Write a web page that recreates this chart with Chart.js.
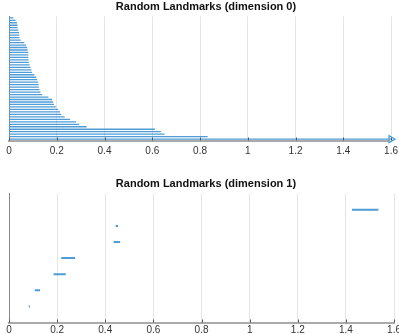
<!DOCTYPE html>
<html>
<head>
<meta charset="utf-8">
<script src="https://cdn.jsdelivr.net/npm/chart.js@4/dist/chart.umd.min.js"></script>
<style>
  html, body { margin: 0; padding: 0; background: #fff; overflow: hidden; }
  #wrap { position: relative; width: 399px; height: 334px; overflow: hidden; }
  .box { position: absolute; left: 0; width: 403px; }
</style>
</head>
<body>
<div id="wrap">
  <div class="box" style="top:0;height:167px"><canvas id="dim0" width="403" height="167"></canvas></div>
  <div class="box" style="top:168px;height:172px"><canvas id="dim1" width="403" height="172"></canvas></div>
</div>
<script>
// x axis ticks shared by both panels
const xTicks = [0, 0.2, 0.4, 0.6, 0.8, 1, 1.2, 1.4, 1.6];

// dimension 0: every bar is born at 0, listed from the bottom bar upward
const dim0Births = new Array(50).fill(0);
const dim0Deaths = [Infinity, 0.832, 0.651, 0.636, 0.611, 0.325, 0.294, 0.281, 0.256, 0.233,
  0.219, 0.214, 0.206, 0.196, 0.188, 0.185, 0.181, 0.165, 0.139, 0.132,
  0.128, 0.125, 0.124, 0.122, 0.118, 0.114, 0.106, 0.096, 0.094, 0.090,
  0.086, 0.083, 0.082, 0.081, 0.081, 0.081, 0.078, 0.076, 0.072, 0.064,
  0.049, 0.044, 0.043, 0.042, 0.039, 0.036, 0.036, 0.033, 0.028, 0.019];

// dimension 1, bottom bar upward
const dim1Births = [0.082, 0.107, 0.185, 0.217, 0.435, 0.443, 1.425];
const dim1Deaths = [0.087, 0.129, 0.236, 0.275, 0.462, 0.453, 1.535];

const titles = ['Random Landmarks (dimension 0)', 'Random Landmarks (dimension 1)'];

const X_MAX = 1.6;
const BLUE = '#4e9dd8';
const FONT = '"Liberation Sans", Arial, Helvetica, sans-serif';

// short tick marks inside the plot, on the x axis
const innerTicks = {
  id: 'innerTicks',
  afterDatasetsDraw(chart) {
    const { ctx, scales: { x }, chartArea } = chart;
    ctx.save();
    ctx.strokeStyle = '#555';
    ctx.lineWidth = 1;
    xTicks.forEach(v => {
      const px = Math.round(x.getPixelForValue(v)) + 0.5;
      ctx.beginPath();
      ctx.moveTo(px, chartArea.bottom);
      ctx.lineTo(px, chartArea.bottom - 3);
      ctx.stroke();
    });
    ctx.restore();
  }
};

function makeBarcode(id, title, births, deaths, yMin, yMax, lineW, padTop, padBottom, tickPad) {
  const datasets = births.map((b, i) => ({
    type: 'line',
    data: [{ x: b, y: i + 1 }, { x: isFinite(deaths[i]) ? deaths[i] : X_MAX, y: i + 1 }],
    borderColor: BLUE,
    borderWidth: lineW,
    pointRadius: 0,
    fill: false
  }));

  // open arrow heads for bars that never die
  const arrows = deaths.map((d, i) => isFinite(d) ? null : { x: X_MAX, y: i + 1 }).filter(p => p);
  if (arrows.length) {
    datasets.push({
      type: 'scatter',
      data: arrows,
      pointStyle: 'triangle',
      rotation: 90,
      pointRadius: 4,
      borderColor: BLUE,
      backgroundColor: '#fff',
      borderWidth: 1.3,
      clip: false
    });
  }

  return new Chart(document.getElementById(id), {
    type: 'line',
    data: { datasets },
    plugins: [innerTicks],
    options: {
      responsive: false,
      animation: false,
      events: [],
      layout: { padding: { left: 9, right: 0, top: padTop, bottom: padBottom } },
      scales: {
        x: {
          type: 'linear',
          min: 0,
          max: X_MAX,
          afterBuildTicks: axis => { axis.ticks = xTicks.map(v => ({ value: v })); },
          grid: { color: '#e4e4e4', drawTicks: false },
          border: { color: '#aaa', width: 2 },
          ticks: {
            padding: tickPad,
            color: '#333',
            font: { family: FONT, size: 10 },
            callback: v => String(v)
          }
        },
        y: {
          type: 'linear',
          min: yMin,
          max: yMax,
          ticks: { display: false },
          grid: { display: false, drawTicks: false },
          border: { color: '#888', width: 1 }
        }
      },
      plugins: {
        legend: { display: false },
        tooltip: { enabled: false },
        title: {
          display: true,
          text: title,
          color: '#111',
          font: { family: FONT, size: 11, weight: 'bold' },
          padding: { top: 0, bottom: 3 }
        }
      }
    }
  });
}

makeBarcode('dim0', titles[0], dim0Births, dim0Deaths, 0.45, 50.65, 1.3, 0, 4.5, 5);
makeBarcode('dim1', titles[1], dim1Births, dim1Deaths, 0, 8, 2, 9.5, 1.5, 2);
</script>
</body>
</html>
